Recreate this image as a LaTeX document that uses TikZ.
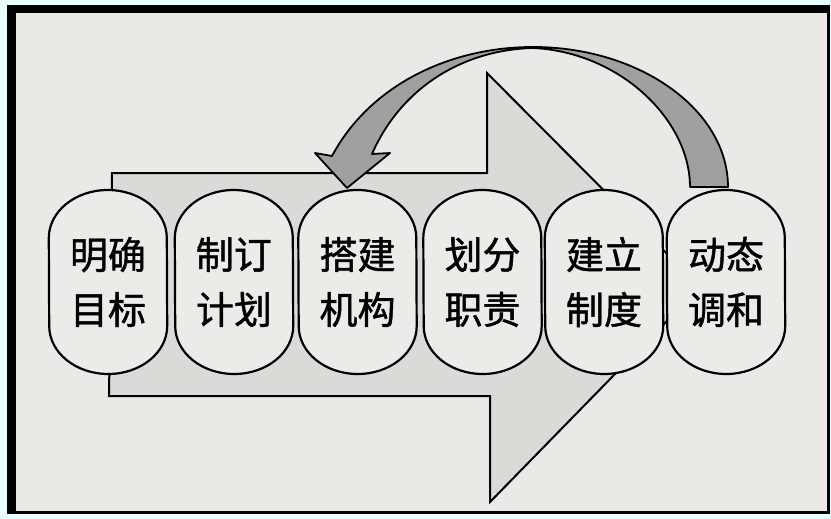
\documentclass[tikz,border=0pt]{standalone}
\usepackage{fontspec}
\newfontfamily\cjk[FakeBold=1.2]{Noto Sans CJK SC}
\definecolor{outercyan}{RGB}{230,255,255}
\definecolor{paper}{RGB}{233,233,230}
\definecolor{arrowfill}{RGB}{218,218,215}
\definecolor{boxfill}{RGB}{235,235,232}
\definecolor{loopfill}{RGB}{160,160,158}
\pgfdeclarelayer{bg}
\pgfsetlayers{bg,main}
\begin{document}
\begin{tikzpicture}[x=1pt,y=-1pt]
\tikzset{
  stepbox/.style={minimum width=118pt, minimum height=184pt, inner sep=0pt, align=center,
    font=\cjk\fontsize{38}{55}\selectfont},
  stepshape/.style={draw=black, line width=2.2pt, fill=boxfill},
  bigarrow/.style={draw=black, line width=2pt, fill=arrowfill, line join=miter},
  looparrow/.style={draw=black, line width=1.8pt, fill=loopfill, line join=round}
}
\useasboundingbox (0,0) rectangle (831,519);
% steps (text)
\node[stepbox] (b1) at (108,282) {明确\\目标};
\node[stepbox] (b2) at (234,282) {制订\\计划};
\node[stepbox] (b3) at (357.5,282) {搭建\\机构};
\node[stepbox] (b4) at (482.5,282) {划分\\职责};
\node[stepbox] (b5) at (604,282) {建立\\制度};
\node[stepbox] (b6) at (726,282) {动态\\调和};
\begin{pgfonlayer}{bg}
% frame
\fill[outercyan] (0,0) rectangle (831,519);
\fill[black] (7,5) rectangle (830,514);
\fill[paper] (16,13) rectangle (827,511);
% big background arrow
\coordinate (s1) at (112,173);
\coordinate (s2) at (487,173);
\coordinate (h1) at (487,73);
\coordinate (tipA) at (700,287);
\coordinate (h2) at (490,502);
\coordinate (s3) at (490,396);
\coordinate (s4) at (109,396);
\draw[bigarrow] (s1) -- (s2) -- (h1) -- (tipA) -- (h2) -- (s3) -- (s4) -- cycle;
% step outlines
\foreach \n in {b1,b2,b3,b4,b5,b6}{
  \draw[stepshape] ([yshift=44pt]\n.west)
    arc[start angle=180, end angle=0, x radius=59pt, y radius=48pt]
    -- ([yshift=-44pt]\n.east)
    arc[start angle=0, end angle=-180, x radius=59pt, y radius=48pt]
    -- cycle;
}
\end{pgfonlayer}
% feedback arrow from b6 back to b3
\coordinate (ro) at (728,187);
\coordinate (ri) at (690,187);
\coordinate (top) at (533,47);
\coordinate (topi) at (533,48);
\coordinate (lo) at (332,156);
\coordinate (li) at (372,154);
\coordinate (bl) at (315,153);
\coordinate (br) at (390,153);
\coordinate (tipB) at (347,188);
\draw[looparrow] (ro) .. controls (728,110) and (640,47) .. (top)
  .. controls (450,47) and (370,85) .. (lo)
  -- (bl) -- (tipB) -- (br) -- (li)
  .. controls (400,90) and (460,50) .. (topi)
  .. controls (620,52) and (690,120) .. (ri) -- cycle;
\end{tikzpicture}
\end{document}
